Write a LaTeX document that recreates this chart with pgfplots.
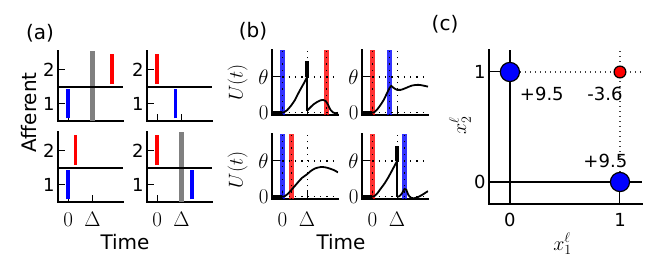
\RequirePackage{fix-cm}
\documentclass[border=0pt]{standalone}
\usepackage[no-math]{fontspec}
\setmainfont{DejaVu Sans}
\usepackage{pgfplots}
\pgfplotsset{compat=1.18}
\definecolor{pblue}{RGB}{0,0,255}
\definecolor{pred}{RGB}{255,0,0}
\definecolor{pgray}{RGB}{128,128,128}
\newcommand{\lbl}{\fontsize{20}{24}\selectfont}
\newcommand{\tkl}{\fontsize{18}{21}\selectfont}
\newcommand{\mtk}{\fontsize{21}{24}\selectfont}
\pgfplotsset{
  base/.style={scale only axis, axis x line*=bottom, axis y line*=left,
    axis line style={-, line width=2.2pt, line cap=rect},
    tick align=inside, tick style={black, line width=0.9pt},
    ticklabel style={font=\tkl},
    xmin=-0.42, xmax=2.25, xtick={0,1}},
  pa/.style={base, width=65pt, height=70pt, ymin=0.5, ymax=2.55, ytick={1,2}, yticklabels={1,2}, major tick length=7pt,
    xticklabel style={font=\mtk, yshift=-7pt}},
  pb/.style={base, width=66pt, height=65pt, ymin=-0.06, ymax=1.75, ytick={0,1}, yticklabels={$0$,$\theta$}, major tick length=9pt,
    xticklabel style={font=\mtk, yshift=-10pt}, yticklabel style={font=\mtk}},
  nox/.style={xticklabels={}},
  withx/.style={xticklabels={$0$,$\Delta$}},
  spk/.style={line width=3.5pt},
  band/.style={line width=4.5pt, opacity=0.8},
  dots/.style={black, line width=1.2pt, dash pattern=on 1.3pt off 5pt},
  u/.style={black, line width=1.8pt},
  uu/.style={black, line width=4.5pt},
}
\begin{document}
\begin{tikzpicture}
\useasboundingbox (0pt,0pt) rectangle (665pt,257pt);
% ---------------- (a)
\begin{axis}[pa, nox, at={(58pt,136pt)}, anchor=south west]
\addplot[pgray, line width=4.5pt] coordinates {(1,0.5) (1,2.55)};
\addplot[black, line width=2.2pt] coordinates {(-0.42,1.5) (2.25,1.5)};
\addplot[pblue, spk] coordinates {(0,0.58) (0,1.43)};
\addplot[pred, spk] coordinates {(1.8,1.58) (1.8,2.45)};
\end{axis}
\begin{axis}[pa, nox, at={(147pt,136pt)}, anchor=south west]
\addplot[black, line width=2.2pt] coordinates {(-0.42,1.5) (2.25,1.5)};
\addplot[pred, spk] coordinates {(0,1.58) (0,2.45)};
\addplot[pblue, spk] coordinates {(0.76,0.58) (0.76,1.43)};
\end{axis}
\begin{axis}[pa, withx, at={(58pt,55pt)}, anchor=south west]
\addplot[black, line width=2.2pt] coordinates {(-0.42,1.5) (2.25,1.5)};
\addplot[pblue, spk] coordinates {(0,0.58) (0,1.43)};
\addplot[pred, spk] coordinates {(0.3,1.58) (0.3,2.45)};
\end{axis}
\begin{axis}[pa, withx, at={(147pt,55pt)}, anchor=south west]
\addplot[pgray, line width=4.5pt] coordinates {(1,0.5) (1,2.55)};
\addplot[black, line width=2.2pt] coordinates {(-0.42,1.5) (2.25,1.5)};
\addplot[pred, spk] coordinates {(0,1.58) (0,2.45)};
\addplot[pblue, spk] coordinates {(1.42,0.58) (1.42,1.43)};
\end{axis}
\node at (40pt,224pt) {\lbl (a)};
\node[rotate=90] at (29.5pt,144.5pt) {\lbl Afferent};
\node[anchor=base] at (125pt,7pt) {\lbl Time};
% ---------------- (b)
\begin{axis}[pb, nox, at={(272pt,142pt)}, anchor=south west]
\addplot[pblue, band] coordinates {(0,-0.06) (0,1.75)};
\addplot[pred, band] coordinates {(1.79,-0.06) (1.79,1.75)};
\addplot[dots] coordinates {(0,-0.06) (0,1.75)};
\addplot[dots] coordinates {(1,-0.06) (1,1.75)};
\addplot[dots] coordinates {(1.79,-0.06) (1.79,1.75)};
\addplot[dots] coordinates {(0,0) (2.25,0)};
\addplot[dots] coordinates {(0,1) (2.25,1)};
\addplot[uu] coordinates {(-0.42,0) (0,0)};
\addplot[u, smooth, tension=0.5] coordinates {(0,0) (0.1,0.03) (0.2,0.08) (0.35,0.2) (0.5,0.35) (0.65,0.55) (0.8,0.74) (0.9,0.86) (1,1)};
\addplot[uu] coordinates {(1,1) (1,1.43)};
\addplot[u] coordinates {(1,1.43) (1,0.06)};
\addplot[u, smooth, tension=0.5] coordinates {(1,0.06) (1.1,0.13) (1.25,0.23) (1.4,0.3) (1.55,0.35) (1.65,0.36) (1.75,0.33) (1.85,0.22) (1.95,0.08) (2.05,0.01) (2.15,-0.01) (2.25,0)};
\end{axis}
\begin{axis}[pb, nox, at={(362pt,142pt)}, anchor=south west]
\addplot[pred, band] coordinates {(0,-0.06) (0,1.75)};
\addplot[pblue, band] coordinates {(0.7,-0.06) (0.7,1.75)};
\addplot[dots] coordinates {(0,-0.06) (0,1.75)};
\addplot[dots] coordinates {(1,-0.06) (1,1.75)};
\addplot[dots] coordinates {(0.7,-0.06) (0.7,1.75)};
\addplot[dots] coordinates {(0,0) (2.25,0)};
\addplot[dots] coordinates {(0,1) (2.25,1)};
\addplot[uu] coordinates {(-0.42,0) (0,0)};
\addplot[u, smooth, tension=0.5] coordinates {(0,0) (0.1,0.03) (0.2,0.1) (0.3,0.19) (0.45,0.35) (0.6,0.56) (0.7,0.7) (0.76,0.75) (0.85,0.7) (1.0,0.64) (1.15,0.64) (1.35,0.69) (1.6,0.76) (1.85,0.78) (2.05,0.76) (2.25,0.73)};
\end{axis}
\begin{axis}[pb, withx, at={(272pt,58pt)}, anchor=south west]
\addplot[pblue, band] coordinates {(0,-0.06) (0,1.75)};
\addplot[pred, band] coordinates {(0.36,-0.06) (0.36,1.75)};
\addplot[dots] coordinates {(0,-0.06) (0,1.75)};
\addplot[dots] coordinates {(1,-0.06) (1,1.75)};
\addplot[dots] coordinates {(0.36,-0.06) (0.36,1.75)};
\addplot[dots] coordinates {(0,0) (2.25,0)};
\addplot[dots] coordinates {(0,1) (2.25,1)};
\addplot[uu] coordinates {(-0.42,0) (0,0)};
\addplot[u, smooth, tension=0.5] coordinates {(0,0) (0.1,0.02) (0.2,0.07) (0.36,0.19) (0.5,0.3) (0.65,0.42) (0.8,0.53) (1.0,0.63) (1.15,0.72) (1.32,0.79) (1.55,0.83) (1.75,0.82) (1.95,0.78) (2.1,0.74) (2.25,0.68)};
\end{axis}
\begin{axis}[pb, withx, at={(362pt,58pt)}, anchor=south west]
\addplot[pred, band] coordinates {(0,-0.06) (0,1.75)};
\addplot[pblue, band] coordinates {(1.3,-0.06) (1.3,1.75)};
\addplot[dots] coordinates {(0,-0.06) (0,1.75)};
\addplot[dots] coordinates {(1,-0.06) (1,1.75)};
\addplot[dots] coordinates {(1.3,-0.06) (1.3,1.75)};
\addplot[dots] coordinates {(0,0) (2.25,0)};
\addplot[dots] coordinates {(0,1) (2.25,1)};
\addplot[uu] coordinates {(-0.42,0) (0,0)};
\addplot[u, smooth, tension=0.5] coordinates {(0,0) (0.1,0.03) (0.2,0.1) (0.35,0.24) (0.5,0.38) (0.65,0.55) (0.8,0.74) (0.9,0.87) (1.0,1.0)};
\addplot[uu] coordinates {(1,1) (1,1.42)};
\addplot[u] coordinates {(1,1.42) (1,0)};
\addplot[u, smooth, tension=0.5] coordinates {(1,0) (1.1,0.02) (1.2,0.1) (1.3,0.22) (1.37,0.2) (1.45,0.06) (1.55,-0.02) (1.65,-0.04) (1.8,-0.02) (2.0,0.05) (2.25,0.16)};
\end{axis}
\node at (253pt,226pt) {\lbl (b)};
\node[rotate=90] at (237.5pt,174.5pt) {\lbl $U(t)$};
\node[rotate=90] at (237.5pt,87pt) {\lbl $U(t)$};
\node[anchor=base] at (341pt,7pt) {\lbl Time};
% ---------------- (c)
\begin{axis}[scale only axis, width=153pt, height=154pt, at={(489pt,53pt)}, anchor=south west,
  xmin=-0.19, xmax=1.2, ymin=-0.2, ymax=1.2,
  axis x line*=bottom, axis y line*=left,
  axis line style={-, line width=2pt, line cap=rect},
  xtick={0,1}, ytick={0,1}, xticklabels={0,1}, yticklabels={0,1},
  tick align=inside, major tick length=12pt, tick style={black, line width=1pt},
  ticklabel style={font=\tkl}, xticklabel style={yshift=-6pt}, clip=false]
\addplot[only marks, mark=*, mark size=9.6pt, mark options={fill=pblue, draw=black, line width=1.2pt}] coordinates {(0,1) (1,0)};
\addplot[only marks, mark=*, mark size=5.9pt, mark options={fill=pred, draw=black, line width=1.2pt}] coordinates {(1,1)};
\addplot[black, line width=1.8pt] coordinates {(0,-0.2) (0,1.2)};
\addplot[black, line width=1.8pt] coordinates {(-0.19,0) (1.2,0)};
\addplot[black!75, line width=1.2pt, dash pattern=on 1.2pt off 3.8pt] coordinates {(0,1) (1.2,1)};
\addplot[black!75, line width=1.2pt, dash pattern=on 1.2pt off 3.8pt] coordinates {(1,0) (1,1.2)};
\node at (axis cs:0.29,0.8) {\tkl +9.5};
\node at (axis cs:0.864,0.8) {\tkl -3.6};
\node at (axis cs:0.867,0.19) {\tkl +9.5};
\end{axis}
\node at (445pt,233pt) {\lbl (c)};
\node at (562.5pt,13pt) {\lbl $x_1^\ell$};
\node[rotate=90] at (460pt,132pt) {\lbl $x_2^\ell$};
\end{tikzpicture}
\end{document}
